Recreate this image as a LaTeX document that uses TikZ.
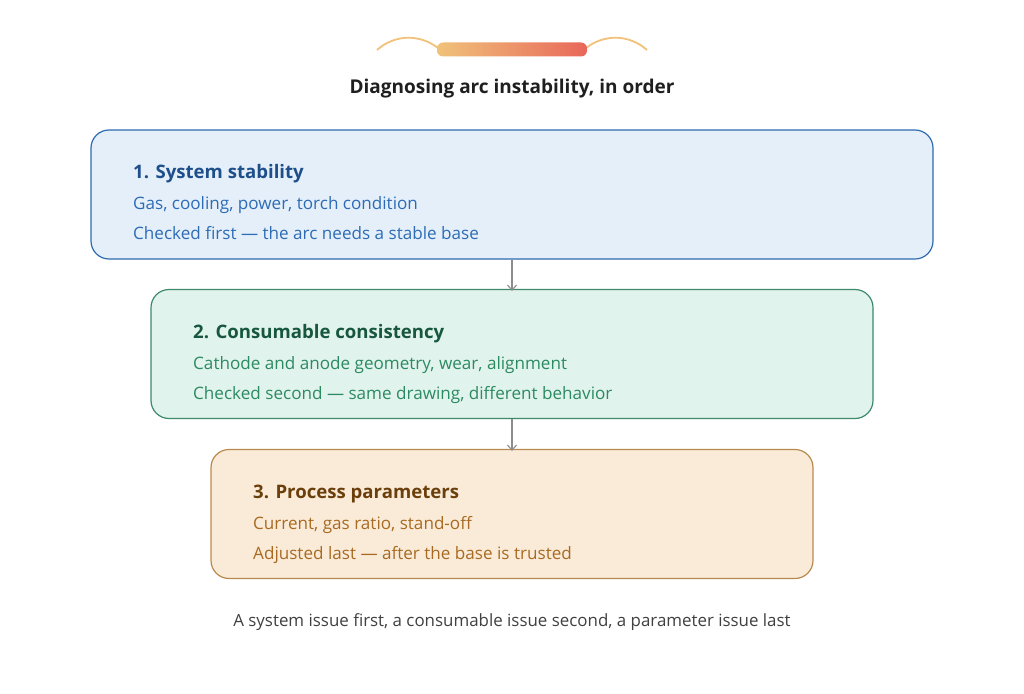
\documentclass[tikz,border=0pt]{standalone}
\usepackage{fontspec}
\setmainfont{Open Sans}
\usetikzlibrary{positioning,arrows.meta}

\definecolor{sysline}{HTML}{2E6BB0}
\definecolor{sysfill}{HTML}{E4EFFA}
\definecolor{syshead}{HTML}{1E4F8A}
\definecolor{systext}{HTML}{2D6CB5}
\definecolor{conline}{HTML}{3D8A6C}
\definecolor{confill}{HTML}{E0F3EC}
\definecolor{conhead}{HTML}{17573F}
\definecolor{context}{HTML}{2C8A62}
\definecolor{parline}{HTML}{B88A4E}
\definecolor{parfill}{HTML}{FAEBD8}
\definecolor{parhead}{HTML}{6B3F0C}
\definecolor{partext}{HTML}{A86A22}
\definecolor{arcgold}{HTML}{F0C27A}
\definecolor{arcred}{HTML}{E8675A}

\tikzset{
  stage/.style={draw, line width=1.2pt, rounded corners=18pt, minimum height=129pt},
  head/.style={anchor=base west, inner sep=0pt, font=\fontsize{18.6}{22}\selectfont\bfseries},
  body/.style={anchor=base west, inner sep=0pt, font=\fontsize{17.1}{20}\selectfont},
  flow/.style={draw=gray!90, line width=1.1pt, -{Straight Barb[length=5pt,width=9pt]}}
}

\begin{document}
\begin{tikzpicture}[x=1pt,y=-1pt]
\useasboundingbox (0,0) rectangle (1024,693);

% header ornament
\draw [arcgold, line width=1.8pt] (377,50) .. controls (395,34) and (420,34) .. (438,48);
\draw [arcgold, line width=1.8pt] (586,48) .. controls (604,34) and (629,34) .. (647,50);
\shade [left color=arcgold, right color=arcred, rounded corners=6pt] (437,42.5) rectangle (587,56.5);

\node [anchor=base, inner sep=0pt, font=\fontsize{19}{23}\selectfont\bfseries, text=black!88] (title) at (512,93) {Diagnosing arc instability, in order};

% the three stages
\node [stage, draw=sysline, fill=sysfill, minimum width=842pt] (sys) at (512,194.5) {};
\node [stage, draw=conline, fill=confill, minimum width=722pt] (con) at (512,354) {};
\node [stage, draw=parline, fill=parfill, minimum width=602pt] (par) at (512,514) {};

\node [head, text=syshead] (syst) at (133,178) {1. System stability};
\node [body, text=systext] (sysa) at (133,209) {Gas, cooling, power, torch condition};
\node [body, text=systext] (sysb) at (133,239) {Checked first — the arc needs a stable base};

\node [head, text=conhead] (cont) at (193,338) {2. Consumable consistency};
\node [body, text=context] (cona) at (193,369) {Cathode and anode geometry, wear, alignment};
\node [body, text=context] (conb) at (193,399) {Checked second — same drawing, different behavior};

\node [head, text=parhead] (part) at (253,498) {3. Process parameters};
\node [body, text=partext] (para) at (253,529) {Current, gas ratio, stand-off};
\node [body, text=partext] (parb) at (253,559) {Adjusted last — after the base is trusted};

\draw [flow] (sys.south) -- ([yshift=-2pt]con.north);
\draw [flow] (con.south) -- ([yshift=-2pt]par.north);

\node [anchor=base, inner sep=0pt, font=\fontsize{16.9}{20}\selectfont, text=black!75] (note) at (512,626) {A system issue first, a consumable issue second, a parameter issue last};
\end{tikzpicture}
\end{document}
